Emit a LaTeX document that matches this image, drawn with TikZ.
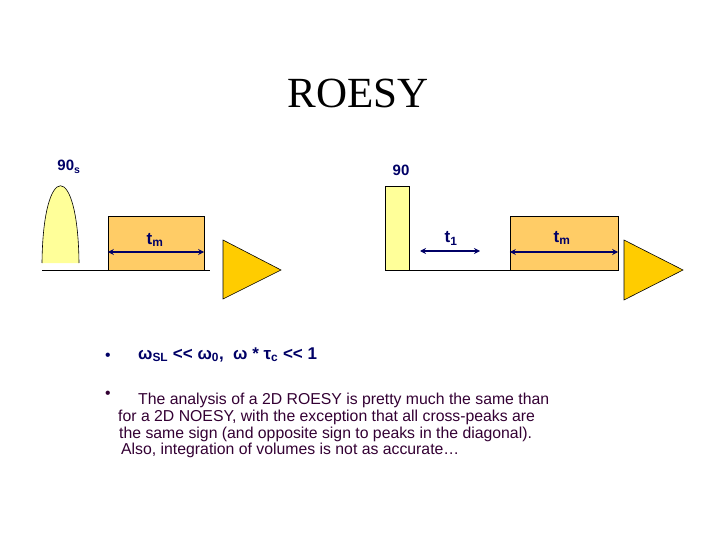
\documentclass[tikz,border=0pt]{standalone}
\usepackage{fontspec}
\usepackage{xcolor}
\usetikzlibrary{arrows.meta, positioning}
\setmainfont{Liberation Sans}
\newfontfamily\titlefont{Liberation Serif}
\definecolor{roesy-yellow}{RGB}{255,255,153}
\definecolor{roesy-orange}{RGB}{255,204,102}
\definecolor{roesy-gold}{RGB}{255,204,0}
\definecolor{roesy-navy}{RGB}{0,0,102}
\definecolor{roesy-plum}{RGB}{51,0,51}
\tikzset{
  mixbox/.style={draw=black, fill=roesy-orange, minimum width=96pt, minimum height=54pt, inner sep=0pt},
  hardpulse/.style={draw=black, fill=roesy-yellow, minimum width=24pt, minimum height=84pt, inner sep=0pt},
  acq/.style={draw=black, fill=roesy-gold, line width=0.6pt},
  dur/.style={roesy-navy, line width=1.6pt, {Stealth[length=6pt,width=6pt]}-{Stealth[length=6pt,width=6pt]}},
  plabel/.style={font=\fontsize{15}{17}\selectfont\bfseries, text=roesy-navy, anchor=base, inner sep=0pt},
  tlabel/.style={plabel, font=\fontsize{17}{19}\selectfont\bfseries},
  bodyline/.style={font=\fontsize{15.8}{17}\selectfont, text=roesy-plum, anchor=base west, inner sep=0pt}
}

\begin{document}
\begin{tikzpicture}[x=1pt, y=-1pt]
  \useasboundingbox (0,0) rectangle (720,540);

  % Title
  \node[font=\titlefont\fontsize{43}{46}\selectfont, anchor=base, inner sep=0pt] (title) at (358,108) {ROESY};

  % Pulse sequence, left half
  \coordinate (startL) at (42,270);
  \coordinate (endL) at (210,270);
  \fill[roesy-yellow] (42,263) .. controls (43,160) and (78,160) .. (79,263) -- cycle;
  \draw[line width=0.6pt] (42,263) .. controls (43,160) and (78,160) .. (79,263);
  \node[plabel] (soft90) at (69,171) {90\textsubscript{s}};
  \node[mixbox] (mixL) at (156,243) {};
  \draw[line width=0.8pt] (startL) -- (endL);
  \draw[dur] ([yshift=-9pt]mixL.west) -- ([yshift=-9pt]mixL.east);
  \node[tlabel] (tmL) at (155,244) {t\textsubscript{m}};
  \draw[acq] (223,240) -- (281,270) -- (223,299) -- cycle;

  % Pulse sequence, right half
  \node[hardpulse] (hard90) at (397,228) {};
  \node[plabel] (lab90) at (401,176) {90};
  \node[mixbox, minimum width=108pt] (mixR) at (564,243) {};
  \draw[line width=0.8pt] (hard90.south east) -- (mixR.south east);
  \coordinate (t1a) at (420,251);
  \coordinate (t1b) at (480,251);
  \draw[dur] (t1a) -- (t1b);
  \node[tlabel] (t1) at (451,243) {t\textsubscript{1}};
  \draw[dur] ([yshift=-9pt]mixR.west) -- ([yshift=-9pt]mixR.east);
  \node[tlabel] (tmR) at (562,242) {t\textsubscript{m}};
  \draw[acq] (624,240) -- (683,270) -- (624,300) -- cycle;

  % Notes
  \node[bodyline, text=roesy-navy] (dot1) at (105,360) {\textbullet};
  \node[bodyline, text=roesy-navy, font=\fontsize{17}{19}\selectfont\bfseries] (cond) at (138,359)
    {ω\textsubscript{SL} <{}< ω\textsubscript{0},\ \ ω * τ\textsubscript{c} <{}< 1};
  \node[bodyline] (dot2) at (105,398) {\textbullet};
  \node[bodyline] (line1) at (138,404) {The analysis of a 2D ROESY is pretty much the same than};
  \node[bodyline] (line2) at (118,421) {for a 2D NOESY, with the exception that all cross-peaks are};
  \node[bodyline] (line3) at (119,438) {the same sign (and opposite sign to peaks in the diagonal).};
  \node[bodyline] (line4) at (121,454) {Also, integration of volumes is not as accurate…};
\end{tikzpicture}
\end{document}
